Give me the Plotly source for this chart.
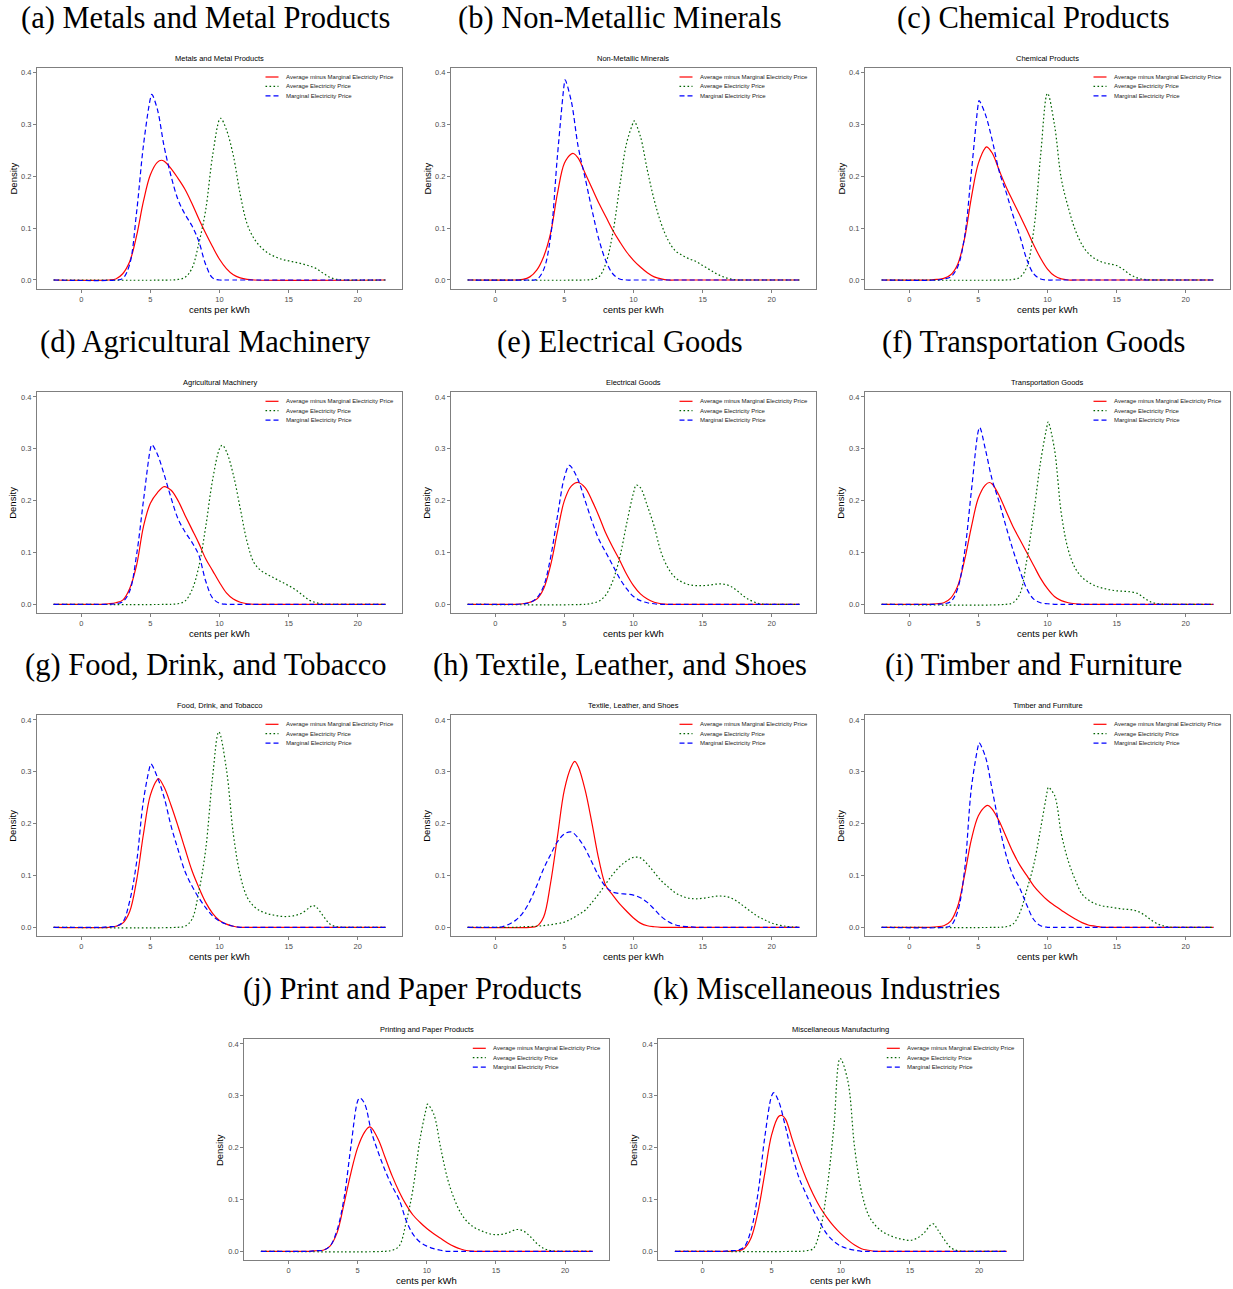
import plotly.graph_objects as go

# ---------------- data (density curves) ----------------
headings = ["(a) Metals and Metal Products", "(b) Non-Metallic Minerals", "(c) Chemical Products",
            "(d) Agricultural Machinery", "(e) Electrical Goods", "(f) Transportation Goods",
            "(g) Food, Drink, and Tobacco", "(h) Textile, Leather, and Shoes", "(i) Timber and Furniture",
            "(j) Print and Paper Products", "(k) Miscellaneous Industries"]
titles = ["Metals and Metal Products", "Non-Metallic Minerals", "Chemical Products",
          "Agricultural Machinery", "Electrical Goods", "Transportation Goods",
          "Food, Drink, and Tobacco", "Textile, Leather, and Shoes", "Timber and Furniture",
          "Printing and Paper Products", "Miscellaneous Manufacturing"]
series_names = ["Average minus Marginal Electricity Price", "Average Electricity Price", "Marginal Electricity Price"]
x_ticks = [0, 5, 10, 15, 20]
y_ticks = [0.0, 0.1, 0.2, 0.3, 0.4]
x_support = [-2, 22]

a_red = [(2,0),(2.5,0.002),(3,0.012),(3.5,0.035),(4,0.085),(4.5,0.152),(5,0.203),(5.5,0.227),(5.8,0.231),(6,0.229),(6.5,0.215),(7,0.196),(7.5,0.175),(8,0.148),(8.5,0.118),(9,0.09),(9.5,0.064),(10,0.04),(10.5,0.022),(11,0.01),(11.5,0.004),(12,0.001),(12.5,0)]
a_green = [(6.5,0),(7,0.001),(7.5,0.005),(8,0.022),(8.5,0.07),(9,0.135),(9.5,0.24),(10,0.31),(10.1,0.312),(10.5,0.29),(11,0.24),(11.5,0.165),(12,0.108),(12.5,0.08),(13,0.063),(13.5,0.052),(14,0.045),(14.5,0.04),(15,0.037),(15.5,0.034),(16,0.031),(16.5,0.027),(17,0.022),(17.5,0.013),(18,0.005),(18.5,0.001),(19,0)]
a_blue = [(2.5,0),(3,0.003),(3.5,0.03),(4,0.13),(4.5,0.26),(5,0.35),(5.1,0.358),(5.5,0.33),(6,0.257),(6.5,0.2),(7,0.155),(7.5,0.127),(8,0.105),(8.5,0.075),(9,0.03),(9.5,0.004),(10,0),(10.5,0)]

b_red = [(1.5,0),(2,0.001),(2.5,0.006),(3,0.019),(3.5,0.045),(4,0.09),(4.5,0.167),(5,0.225),(5.5,0.243),(5.65,0.244),(6,0.235),(6.5,0.206),(7,0.177),(7.5,0.148),(8,0.122),(8.5,0.096),(9,0.074),(9.5,0.054),(10,0.038),(10.5,0.025),(11,0.014),(11.5,0.006),(12,0.002),(12.5,0),(13,0)]
b_green = [(6.5,0),(7,0.001),(7.5,0.006),(8,0.032),(8.5,0.09),(9,0.18),(9.5,0.264),(10,0.305),(10.05,0.307),(10.5,0.277),(11,0.212),(11.5,0.154),(12,0.109),(12.5,0.077),(13,0.057),(13.5,0.048),(14,0.041),(14.5,0.036),(15,0.028),(15.5,0.02),(16,0.012),(16.5,0.006),(17,0.002),(17.5,0),(18,0)]
b_blue = [(2.5,0),(3,0.001),(3.5,0.02),(4,0.083),(4.5,0.24),(5,0.38),(5.05,0.386),(5.5,0.345),(6,0.257),(6.5,0.197),(7,0.135),(7.5,0.078),(8,0.037),(8.5,0.012),(9,0.002),(9.5,0),(10,0)]

c_red = [(1.5,0),(2,0.001),(2.5,0.003),(3,0.01),(3.5,0.03),(4,0.08),(4.5,0.16),(5,0.225),(5.5,0.255),(5.6,0.257),(6,0.245),(6.5,0.212),(7,0.18),(7.5,0.152),(8,0.125),(8.5,0.097),(9,0.068),(9.5,0.042),(10,0.021),(10.5,0.008),(11,0.002),(11.5,0),(12,0)]
c_green = [(7,0),(7.5,0.001),(8,0.005),(8.5,0.025),(9,0.095),(9.5,0.24),(10,0.36),(10.5,0.3),(11,0.195),(11.5,0.14),(12,0.097),(12.5,0.068),(13,0.05),(13.5,0.04),(14,0.034),(14.5,0.031),(15,0.028),(15.5,0.02),(16,0.01),(16.5,0.004),(17,0.001),(17.5,0),(18,0)]
c_blue = [(2,0),(2.5,0.002),(3,0.006),(3.5,0.025),(4,0.083),(4.5,0.21),(5,0.341),(5.05,0.346),(5.5,0.32),(6,0.27),(6.5,0.21),(7,0.17),(7.5,0.125),(8,0.085),(8.5,0.04),(9,0.012),(9.5,0.002),(10,0),(10.5,0)]

d_red = [(1.5,0),(2,0.001),(2.5,0.003),(3,0.008),(3.5,0.03),(4,0.075),(4.5,0.15),(5,0.195),(5.5,0.215),(6,0.227),(6.5,0.22),(7,0.2),(7.5,0.172),(8,0.145),(8.5,0.118),(9,0.088),(9.5,0.065),(10,0.042),(10.5,0.022),(11,0.01),(11.5,0.004),(12,0.001),(12.5,0),(13,0)]
d_green = [(6.5,0),(7,0.001),(7.5,0.006),(8,0.027),(8.5,0.072),(9,0.149),(9.5,0.24),(10,0.3),(10.2,0.307),(10.5,0.295),(11,0.25),(11.5,0.185),(12,0.12),(12.5,0.08),(13,0.065),(13.5,0.057),(14,0.05),(14.5,0.043),(15,0.036),(15.5,0.028),(16,0.018),(16.5,0.008),(17,0.003),(17.5,0),(18,0)]
d_blue = [(2,0),(2.5,0.001),(3,0.005),(3.5,0.025),(4,0.095),(4.5,0.2),(5,0.3),(5.1,0.308),(5.5,0.29),(6,0.25),(6.5,0.205),(7,0.165),(7.5,0.14),(8,0.12),(8.5,0.095),(9,0.045),(9.5,0.012),(10,0.002),(10.5,0),(11,0)]

e_red = [(1.5,0),(2,0.001),(2.5,0.004),(3,0.01),(3.5,0.03),(4,0.075),(4.5,0.14),(5,0.2),(5.5,0.228),(6,0.235),(6.5,0.225),(7,0.2),(7.5,0.17),(8,0.137),(8.5,0.11),(9,0.085),(9.5,0.058),(10,0.036),(10.5,0.02),(11,0.01),(11.5,0.004),(12,0.001),(12.5,0),(13,0)]
e_green = [(6.5,0),(7,0.002),(7.5,0.006),(8,0.018),(8.5,0.045),(9,0.09),(9.5,0.155),(10,0.215),(10.2,0.23),(10.5,0.225),(11,0.19),(11.5,0.15),(12,0.1),(12.5,0.07),(13,0.052),(13.5,0.043),(14,0.038),(14.5,0.036),(15,0.036),(15.5,0.037),(16,0.039),(16.5,0.039),(17,0.035),(17.5,0.026),(18,0.015),(18.5,0.007),(19,0.002),(19.5,0),(20,0)]
e_blue = [(1.5,0),(2,0.001),(2.5,0.003),(3,0.012),(3.5,0.035),(4,0.09),(4.5,0.17),(5,0.245),(5.35,0.268),(5.5,0.265),(6,0.24),(6.5,0.2),(7,0.16),(7.5,0.125),(8,0.1),(8.5,0.075),(9,0.05),(9.5,0.03),(10,0.015),(10.5,0.007),(11,0.003),(11.5,0.001),(12,0),(12.5,0)]

f_red = [(1.5,0),(2,0.001),(2.5,0.003),(3,0.012),(3.5,0.035),(4,0.085),(4.5,0.15),(5,0.205),(5.5,0.23),(5.8,0.235),(6,0.232),(6.5,0.21),(7,0.18),(7.5,0.15),(8,0.125),(8.5,0.1),(9,0.075),(9.5,0.05),(10,0.03),(10.5,0.015),(11,0.007),(11.5,0.003),(12,0.001),(12.5,0),(13,0)]
f_green = [(7,0),(7.5,0.003),(8,0.02),(8.5,0.085),(9,0.175),(9.5,0.275),(10,0.348),(10.05,0.352),(10.5,0.3),(11,0.175),(11.5,0.105),(12,0.07),(12.5,0.052),(13,0.042),(13.5,0.035),(14,0.031),(14.5,0.028),(15,0.026),(15.5,0.025),(16,0.024),(16.5,0.021),(17,0.012),(17.5,0.004),(18,0.001),(18.5,0),(19,0)]
f_blue = [(2,0),(2.5,0.001),(3,0.005),(3.5,0.03),(4,0.1),(4.5,0.22),(5,0.335),(5.1,0.341),(5.5,0.3),(6,0.24),(6.5,0.198),(7,0.15),(7.5,0.105),(8,0.065),(8.5,0.03),(9,0.01),(9.5,0.003),(10,0.001),(10.5,0),(11,0)]

g_red = [(2,0),(2.5,0.002),(3,0.008),(3.5,0.03),(4,0.09),(4.5,0.18),(5,0.255),(5.5,0.285),(5.6,0.287),(6,0.27),(6.5,0.235),(7,0.195),(7.5,0.152),(8,0.11),(8.5,0.077),(9,0.048),(9.5,0.027),(10,0.013),(10.5,0.006),(11,0.002),(11.5,0),(12,0)]
g_green = [(7,0),(7.5,0.002),(8,0.015),(8.5,0.068),(9,0.15),(9.5,0.29),(9.95,0.377),(10.5,0.305),(11,0.18),(11.5,0.1),(12,0.058),(12.5,0.04),(13,0.031),(13.5,0.026),(14,0.023),(14.5,0.021),(15,0.021),(15.5,0.023),(16,0.028),(16.5,0.038),(16.75,0.042),(17,0.039),(17.5,0.022),(18,0.006),(18.5,0.001),(19,0),(19.5,0)]
g_blue = [(1.5,0),(2,0.001),(2.5,0.002),(3,0.01),(3.5,0.05),(4,0.125),(4.5,0.245),(5,0.313),(5.05,0.315),(5.5,0.29),(6,0.25),(6.5,0.195),(7,0.15),(7.5,0.108),(8,0.08),(8.5,0.057),(9,0.038),(9.5,0.022),(10,0.012),(10.5,0.006),(11,0.002),(11.5,0),(12,0)]

h_red = [(2.5,0),(3,0.002),(3.5,0.02),(4,0.085),(4.5,0.175),(5,0.265),(5.5,0.31),(5.75,0.32),(6,0.31),(6.5,0.265),(7,0.2),(7.5,0.13),(8,0.08),(8.5,0.062),(9,0.045),(9.5,0.031),(10,0.018),(10.5,0.008),(11,0.003),(11.5,0.001),(12,0),(12.5,0)]
h_green = [(1.5,0),(2,0.001),(3,0.002),(4,0.005),(5,0.01),(5.5,0.016),(6,0.024),(6.5,0.033),(7,0.048),(7.5,0.065),(8,0.084),(8.5,0.102),(9,0.117),(9.5,0.128),(10,0.135),(10.5,0.134),(11,0.122),(11.5,0.106),(12,0.09),(12.5,0.078),(13,0.067),(13.5,0.06),(14,0.056),(14.5,0.055),(15,0.056),(15.5,0.058),(16,0.06),(16.5,0.06),(17,0.057),(17.5,0.05),(18,0.04),(18.5,0.03),(19,0.021),(19.5,0.014),(20,0.008),(21,0.002),(22,0)]
h_blue = [(0,0),(0.5,0.001),(1,0.006),(1.5,0.014),(2,0.028),(2.5,0.05),(3,0.08),(3.5,0.113),(4,0.14),(4.5,0.165),(5,0.18),(5.5,0.184),(6,0.172),(6.5,0.152),(7,0.125),(7.5,0.098),(8,0.078),(8.5,0.068),(9,0.065),(9.5,0.064),(10,0.062),(10.5,0.057),(11,0.048),(11.5,0.035),(12,0.021),(12.5,0.011),(13,0.005),(13.5,0.002),(14,0.001),(14.5,0),(15,0)]

i_red = [(1.5,0),(2,0.001),(2.5,0.003),(3,0.012),(3.5,0.04),(4,0.1),(4.5,0.17),(5,0.215),(5.5,0.233),(5.7,0.235),(6,0.228),(6.5,0.205),(7,0.175),(7.5,0.145),(8,0.12),(8.5,0.1),(9,0.08),(9.5,0.065),(10,0.052),(10.5,0.042),(11,0.033),(11.5,0.024),(12,0.016),(12.5,0.009),(13,0.004),(13.5,0.002),(14,0),(14.5,0)]
i_green = [(6.5,0),(7,0.001),(7.5,0.006),(8,0.028),(8.5,0.072),(9,0.12),(9.5,0.19),(10,0.265),(10.05,0.27),(10.5,0.255),(11,0.18),(11.5,0.128),(12,0.092),(12.5,0.064),(13,0.052),(13.5,0.045),(14,0.041),(14.5,0.039),(15,0.037),(15.5,0.035),(16,0.034),(16.5,0.031),(17,0.024),(17.5,0.014),(18,0.006),(18.5,0.002),(19,0),(19.5,0)]
i_blue = [(2.5,0),(3,0.003),(3.5,0.03),(4,0.11),(4.5,0.27),(5,0.352),(5.05,0.356),(5.5,0.33),(6,0.265),(6.5,0.198),(7,0.14),(7.5,0.1),(8,0.075),(8.5,0.043),(9,0.015),(9.5,0.003),(10,0),(10.5,0)]

j_red = [(1.5,0),(2,0.001),(2.5,0.002),(3,0.01),(3.5,0.035),(4,0.09),(4.5,0.15),(5,0.2),(5.5,0.23),(5.85,0.24),(6,0.238),(6.5,0.215),(7,0.18),(7.5,0.145),(8,0.115),(8.5,0.09),(9,0.07),(9.5,0.056),(10,0.044),(10.5,0.034),(11,0.025),(11.5,0.016),(12,0.009),(12.5,0.004),(13,0.001),(13.5,0),(14,0)]
j_green = [(7,0),(7.5,0.002),(8,0.01),(8.5,0.055),(9,0.12),(9.5,0.215),(10,0.28),(10.05,0.284),(10.5,0.265),(11,0.2),(11.5,0.14),(12,0.1),(12.5,0.072),(13,0.055),(13.5,0.045),(14,0.039),(14.5,0.034),(15,0.032),(15.5,0.033),(16,0.037),(16.5,0.042),(17,0.039),(17.5,0.028),(18,0.014),(18.5,0.005),(19,0.001),(19.5,0),(20,0)]
j_blue = [(1.5,0),(2,0.001),(2.5,0.002),(3,0.01),(3.5,0.04),(4,0.1),(4.5,0.2),(5,0.29),(5.15,0.296),(5.5,0.285),(6,0.23),(6.5,0.19),(7,0.155),(7.5,0.125),(8,0.1),(8.5,0.06),(9,0.033),(9.5,0.018),(10,0.01),(10.5,0.005),(11,0.002),(11.5,0),(12,0)]

k_red = [(2,0),(2.5,0.001),(3,0.005),(3.5,0.025),(4,0.075),(4.5,0.15),(5,0.225),(5.5,0.26),(5.75,0.262),(6,0.255),(6.5,0.215),(7,0.175),(7.5,0.14),(8,0.11),(8.5,0.085),(9,0.065),(9.5,0.048),(10,0.034),(10.5,0.022),(11,0.012),(11.5,0.005),(12,0.002),(12.5,0),(13,0)]
k_green = [(7,0),(7.5,0.001),(8,0.005),(8.5,0.04),(9,0.12),(9.5,0.24),(9.95,0.372),(10.5,0.33),(11,0.2),(11.5,0.115),(12,0.07),(12.5,0.05),(13,0.038),(13.5,0.031),(14,0.026),(14.5,0.023),(15,0.021),(15.5,0.025),(16,0.035),(16.5,0.051),(16.7,0.053),(17,0.042),(17.5,0.022),(18,0.006),(18.5,0.001),(19,0),(19.5,0)]
k_blue = [(1.5,0),(2,0.001),(2.5,0.002),(3,0.008),(3.5,0.04),(4,0.11),(4.5,0.22),(5,0.3),(5.15,0.306),(5.5,0.29),(6,0.24),(6.5,0.185),(7,0.14),(7.5,0.11),(8,0.08),(8.5,0.055),(9,0.033),(9.5,0.019),(10,0.01),(10.5,0.005),(11,0.002),(11.5,0),(12,0)]

panel_curves = [(a_red, a_green, a_blue), (b_red, b_green, b_blue), (c_red, c_green, c_blue),
                (d_red, d_green, d_blue), (e_red, e_green, e_blue), (f_red, f_green, f_blue),
                (g_red, g_green, g_blue), (h_red, h_green, h_blue), (i_red, i_green, i_blue),
                (j_red, j_green, j_blue), (k_red, k_green, k_blue)]

# ---------------- layout / style ----------------
W, H = 1233, 1289
BOX_W, BOX_H = 365, 221
row_tops = [68, 392.3, 715.3, 1039.3]
col_lefts = [37, 451, 865]
boxes = [(col_lefts[c], row_tops[r]) for r in range(3) for c in range(3)] + [(244.3, row_tops[3]), (658.3, row_tops[3])]

X_RANGE = [-3.2, 23.2]
Y_RANGE = [-0.0174, 0.409]
colors = ["#FF0000", "#006400", "#0000FF"]
dashes = ["solid", "1.6px,2.4px", "5px,3px"]
SANS = "Liberation Sans, Arial, sans-serif"
SERIF = "Liberation Serif, Times New Roman, serif"
GREY = "#7f7f7f"


def full_curve(pts):
    xs = [p[0] for p in pts]
    ys = [p[1] for p in pts]
    if xs[0] > x_support[0]:
        xs = [x_support[0]] + xs
        ys = [0] + ys
    if xs[-1] < x_support[1]:
        xs = xs + [x_support[1]]
        ys = ys + [0]
    return xs, ys


fig = go.Figure()
layout = dict(width=W, height=H, margin=dict(l=0, r=0, t=0, b=0),
              paper_bgcolor="white", plot_bgcolor="white", showlegend=False)
annotations = []
shapes = []

for i, ((left, top), curves) in enumerate(zip(boxes, panel_curves)):
    n = i + 1
    sfx = "" if n == 1 else str(n)
    xa, ya = "x" + sfx, "y" + sfx
    xdom = [left / W, (left + BOX_W) / W]
    ydom = [1 - (top + BOX_H) / H, 1 - top / H]
    axis_common = dict(showline=True, mirror=True, linecolor=GREY, linewidth=1,
                       ticks="outside", ticklen=3, tickwidth=1, tickcolor=GREY,
                       tickfont=dict(family=SANS, size=7.5, color="#4d4d4d"),
                       showgrid=False, zeroline=False, fixedrange=True)
    layout["xaxis" + sfx] = dict(domain=xdom, range=X_RANGE, tickvals=x_ticks, anchor=ya, **axis_common)
    layout["yaxis" + sfx] = dict(domain=ydom, range=Y_RANGE, tickvals=y_ticks, tickformat=".1f", anchor=xa, **axis_common)

    for name, pts, col, dsh in zip(series_names, curves, colors, dashes):
        xs, ys = full_curve(pts)
        fig.add_trace(go.Scatter(x=xs, y=ys, mode="lines", name=name, xaxis=xa, yaxis=ya,
                                 line=dict(color=col, width=1.2, dash=dsh, shape="spline", smoothing=1.0)))

    cx = left + BOX_W / 2
    # big heading
    annotations.append(dict(text=headings[i], x=(cx - 14) / W, y=1 - (top - 50.5) / H, xref="paper", yref="paper",
                            showarrow=False, xanchor="center", yanchor="middle",
                            font=dict(family=SERIF, size=30.5, color="black")))
    # panel title
    annotations.append(dict(text=titles[i], x=cx / W, y=1 - (top - 10) / H, xref="paper", yref="paper",
                            showarrow=False, xanchor="center", yanchor="middle",
                            font=dict(family=SANS, size=7.5, color="black")))
    # axis titles
    annotations.append(dict(text="cents per kWh", x=cx / W, y=1 - (top + BOX_H + 20) / H, xref="paper", yref="paper",
                            showarrow=False, xanchor="center", yanchor="middle",
                            font=dict(family=SANS, size=9.5, color="black")))
    annotations.append(dict(text="Density", x=(left - 24) / W, y=1 - (top + BOX_H / 2) / H, xref="paper", yref="paper",
                            showarrow=False, xanchor="center", yanchor="middle", textangle=-90,
                            font=dict(family=SANS, size=9.5, color="black")))
    # manual legend
    for k, (name, col, dsh) in enumerate(zip(series_names, colors, dashes)):
        ly = 1 - (9 + 9.4 * k) / BOX_H
        shapes.append(dict(type="line", xref=xa + " domain", yref=ya + " domain",
                           x0=(265.5 - 37) / BOX_W, x1=(278.5 - 37) / BOX_W, y0=ly, y1=ly,
                           line=dict(color=col, width=1.2, dash=dsh)))
        annotations.append(dict(text=name, xref=xa + " domain", yref=ya + " domain",
                                x=(284 - 37) / BOX_W, y=ly, showarrow=False, xanchor="left", yanchor="middle",
                                font=dict(family=SANS, size=6, color="#222222")))

layout["annotations"] = annotations
layout["shapes"] = shapes
fig.update_layout(**layout)
fig.write_html("out.html")
